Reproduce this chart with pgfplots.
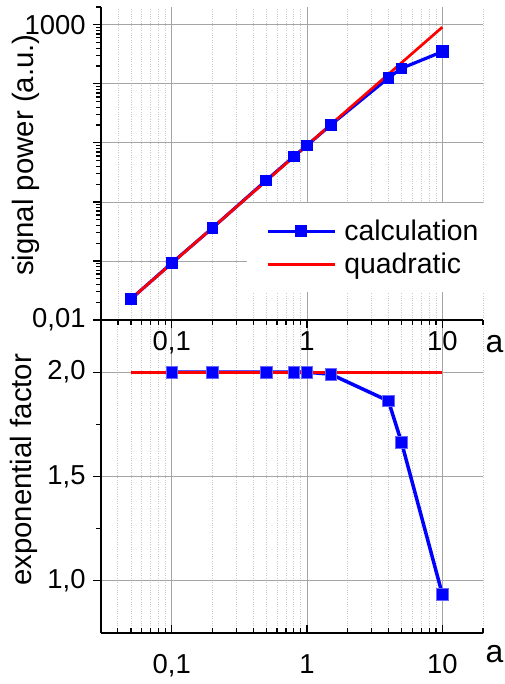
\documentclass[border=0pt]{standalone}
\usepackage{pgfplots}
\pgfplotsset{compat=1.18}
\usepackage{fontspec}
\setmainfont{Liberation Sans}
\definecolor{gmaj}{RGB}{165,165,165}
\definecolor{gmin}{RGB}{200,200,200}
\definecolor{cblue}{RGB}{0,0,255}
\definecolor{cred}{RGB}{255,0,0}
\begin{document}
\begin{tikzpicture}
\path[use as bounding box] (0bp,0bp) rectangle (505bp,684bp);
% bottom axis
\begin{axis}[scale only axis, width=382bp, height=313bp,
  xmode=log, xmin=0.03, xmax=20,
  axis lines*=left, axis line style={line width=1.5bp, -},
  font=\fontsize{28.5}{33}\selectfont,
  tick label style={font=\fontsize{27.5}{32}\selectfont},
  xtick={0.1,1,10},
  minor xtick={0.03,0.04,0.05,0.06,0.07,0.08,0.09,0.2,0.3,0.4,0.5,0.6,0.7,0.8,0.9,2,3,4,5,6,7,8,9,20},
  xticklabels={{0,1},{1},{10}},
  major grid style={gmaj, line width=0.8bp},
  minor grid style={gmin, dotted, line width=0.8bp},
  xmajorgrids, xminorgrids, ymajorgrids,
  tick style={black, line width=1.2bp},
  major tick length=8bp, minor tick length=5bp,
  xlabel={a},
  at={(101bp,51bp)}, anchor=south west,
  ymin=0.75, ymax=2.25,
  ytick={1,1.5,2}, yticklabels={{1,0},{1,5},{2,0}},
  minor ytick={1.25,1.75},
  xtick align=inside, ytick align=outside,
  xticklabel style={yshift=-18bp},
  yticklabel style={xshift=-4bp},
  ylabel={exponential factor},
  every axis y label/.style={at={(rel axis cs:-0.202,0.521)}, rotate=90, anchor=center, font=\fontsize{29.5}{34}\selectfont},
  every axis x label/.style={at={(rel axis cs:1.03,-0.067)}, anchor=center, font=\fontsize{32}{36}\selectfont},
]
\addplot[cblue, line width=3.5bp, mark=square*, mark size=5.8bp, mark options={solid, fill=cblue, draw=cblue!60!white, line width=0.8bp}] coordinates {
(0.1,2.0) (0.2,2.0) (0.5,2.0) (0.8,2.0) (1,2.0) (1.5,1.99) (4,1.862) (5,1.663) (10,0.936)};
\addplot[cred, line width=3bp] coordinates {(0.05,2) (10,2)};
\end{axis}
% top axis
\begin{axis}[scale only axis, width=382bp, height=313bp,
  xmode=log, xmin=0.03, xmax=20,
  axis lines*=left, axis line style={line width=1.5bp, -},
  font=\fontsize{28.5}{33}\selectfont,
  tick label style={font=\fontsize{27.5}{32}\selectfont},
  xtick={0.1,1,10},
  minor xtick={0.03,0.04,0.05,0.06,0.07,0.08,0.09,0.2,0.3,0.4,0.5,0.6,0.7,0.8,0.9,2,3,4,5,6,7,8,9,20},
  xticklabels={{0,1},{1},{10}},
  major grid style={gmaj, line width=0.8bp},
  minor grid style={gmin, dotted, line width=0.8bp},
  xmajorgrids, xminorgrids, ymajorgrids,
  tick style={black, line width=1.2bp},
  major tick length=8bp, minor tick length=5bp,
  xlabel={a},
  at={(101bp,364bp)}, anchor=south west,
  ymode=log, ymin=0.01, ymax=2000,
  ytick={0.01,0.1,1,10,100,1000}, yticklabels={{0,01},{},{},{},{},{1000}},
  minor ytick={0.02,0.03,0.04,0.05,0.06,0.07,0.08,0.09,0.2,0.3,0.4,0.5,0.6,0.7,0.8,0.9,2,3,4,5,6,7,8,9,20,30,40,50,60,70,80,90,200,300,400,500,600,700,800,900,2000},
  tick align=outside,
  yticklabel style={xshift=-4bp},
  ylabel={signal power (a.u.)},
  every axis y label/.style={at={(rel axis cs:-0.196,0.527)}, rotate=90, anchor=center, font=\fontsize{29.5}{34}\selectfont},
  every axis x label/.style={at={(rel axis cs:1.03,-0.077)}, anchor=center, font=\fontsize{32}{36}\selectfont},
  legend style={at={(rel axis cs:0.382,0.374)}, anchor=north west, fill=white, draw=none,
    font=\fontsize{28.5}{33}\selectfont, nodes={inner sep=2bp}, row sep=7bp, column sep=6bp, inner xsep=19bp, inner ysep=15bp},
  legend cell align=left,
  legend image code/.code={\draw[mark repeat=2,mark phase=2,#1] plot coordinates {(0bp,0bp) (33.5bp,0bp) (67bp,0bp)};},
]
\addplot[cblue, line width=3.2bp, mark=square*, mark size=4.2bp, mark options={solid, fill=cblue}] coordinates {
(0.05,0.0227) (0.1,0.092) (0.2,0.362) (0.5,2.32) (0.8,5.9) (1,9.04) (1.5,20.2) (4,126) (5,183) (10,350)};
\addlegendentry{calculation}
\addplot[cred, line width=2.7bp] coordinates {(0.05,0.02275) (10,910)};
\addlegendentry{quadratic}
\addplot[only marks, mark=square*, mark size=6bp, cblue, forget plot] coordinates {(10,350)};
\end{axis}
\end{tikzpicture}
\end{document}
